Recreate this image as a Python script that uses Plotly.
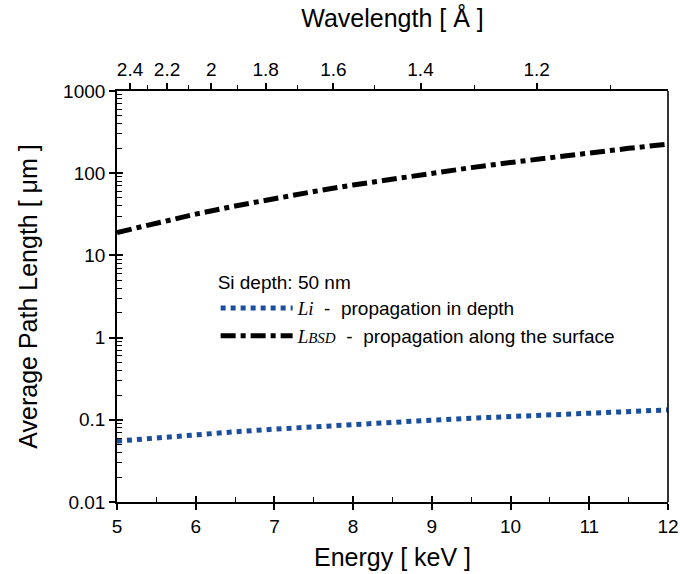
import plotly.graph_objects as go

# Data
energy_kev = [5, 5.5, 6, 6.5, 7, 7.5, 8, 8.5, 9, 9.5, 10, 10.5, 11, 11.5, 12]
l_bsd_um = [19, 24.9, 31.8, 39.9, 49.3, 59.9, 71.9, 85.3, 100.3, 116.9, 135, 155, 177, 200.6, 226]
l_i_um = [0.055, 0.0605, 0.066, 0.0715, 0.077, 0.0825, 0.088, 0.0935, 0.099, 0.1045, 0.11, 0.1155, 0.121, 0.1265, 0.132]

wl_major = [2.4, 2.2, 2.0, 1.8, 1.6, 1.4, 1.2]
wl_major_text = ["2.4", "2.2", "2", "1.8", "1.6", "1.4", "1.2"]
wl_minor = [2.3, 2.1, 1.9, 1.7, 1.5, 1.3, 1.1]
HC = 12.398  # keV*Angstrom

y_tickvals = [0.01, 0.1, 1, 10, 100, 1000]
y_ticktext = ["0.01", "0.1", "1", "10", "100", "1000"]
y_minor = [m * 10 ** d for d in range(-2, 3) for m in range(2, 10)]

FONT = "Liberation Sans, Arial, sans-serif"
SERIF = "Liberation Serif, Times New Roman, serif"

fig = go.Figure()
fig.add_trace(go.Scatter(
    x=energy_kev, y=l_i_um, mode="lines",
    line=dict(color="#1b4f9e", width=5, dash="dot"),
    name=f"<span style=\"font-family:{SERIF};font-style:italic\">Li</span>  -  propagation in depth",
))
fig.add_trace(go.Scatter(
    x=energy_kev, y=l_bsd_um, mode="lines",
    line=dict(color="black", width=5, dash="dashdot"),
    name=f"<span style=\"font-family:{SERIF};font-style:italic\">L<span style=\"font-size:15px\">BSD</span></span>  -  propagation along the surface",
))
# invisible trace to activate top axis
fig.add_trace(go.Scatter(x=[5, 12], y=[1, 1], xaxis="x2", mode="lines",
                         line=dict(width=0), showlegend=False, hoverinfo="skip", opacity=0))
# invisible trace for overlay tick axes
fig.add_trace(go.Scatter(x=[5], y=[1], xaxis="x3", yaxis="y3", mode="markers",
                         marker=dict(size=0, opacity=0), showlegend=False, hoverinfo="skip"))

axis_common = dict(linecolor="black", linewidth=1.6, tickcolor="black", tickwidth=1.6,
                   showgrid=False, zeroline=False, automargin=False)

fig.update_layout(
    width=680, height=574,
    margin=dict(l=117, r=12, t=91, b=72),
    paper_bgcolor="white", plot_bgcolor="white",
    font=dict(family=FONT, color="black", size=19),
    showlegend=True,
    legend=dict(x=0.179, y=0.578, xanchor="left", yanchor="top",
                bgcolor="rgba(0,0,0,0)", itemwidth=72,
                title=dict(text="Si depth: 50 nm", font=dict(size=19, family=FONT)),
                font=dict(size=19, family=FONT), tracegroupgap=0),
    xaxis=dict(range=[5, 12], tickvals=[5, 6, 7, 8, 9, 10, 11, 12],
               ticks="outside", ticklen=6, showline=True,
               minor=dict(tickvals=[5.5, 6.5, 7.5, 8.5, 9.5, 10.5, 11.5], ticks="inside",
                          ticklen=5, tickcolor="black", tickwidth=1.4),
               tickfont=dict(size=19),
               title=dict(text="Energy [ keV ]", font=dict(size=25), standoff=13),
               **axis_common),
    xaxis2=dict(range=[5, 12], overlaying="x", side="top", anchor="y",
                tickvals=[HC / w for w in wl_major], ticktext=wl_major_text,
                ticks="outside", ticklen=6, showline=True,
                minor=dict(tickvals=[HC / w for w in wl_minor], ticks="outside",
                           ticklen=4, tickcolor="black", tickwidth=1.4),
                tickfont=dict(size=19),
                title=dict(text="Wavelength [ Å ]", font=dict(size=25), standoff=24),
                **axis_common),
    xaxis3=dict(range=[5, 12], overlaying="x", side="bottom", anchor="y",
                tickvals=[5, 6, 7, 8, 9, 10, 11, 12], showticklabels=False,
                ticks="inside", ticklen=6, showline=False,
                **axis_common),
    yaxis=dict(type="log", range=[-2, 3], tickvals=y_tickvals, ticktext=y_ticktext,
               ticks="outside", ticklen=6, showline=True,
               minor=dict(tickvals=y_minor, ticks="inside", ticklen=5,
                          tickcolor="black", tickwidth=1.2),
               tickfont=dict(size=19),
               title=dict(text="Average Path Length [ μm ]", font=dict(size=25), standoff=18),
               **axis_common),
    yaxis3=dict(type="log", range=[-2, 3], overlaying="y", side="left", anchor="x",
                tickvals=y_tickvals, showticklabels=False,
                ticks="inside", ticklen=6, showline=False,
                **axis_common),
    shapes=[dict(type="line", xref="paper", yref="paper", x0=1, x1=1, y0=0, y1=1,
                 line=dict(color="black", width=1.6))],
)

fig.write_html("out.html", config={"displayModeBar": False},
               post_script="document.body.style.margin='0px';document.body.style.overflow='hidden';")
